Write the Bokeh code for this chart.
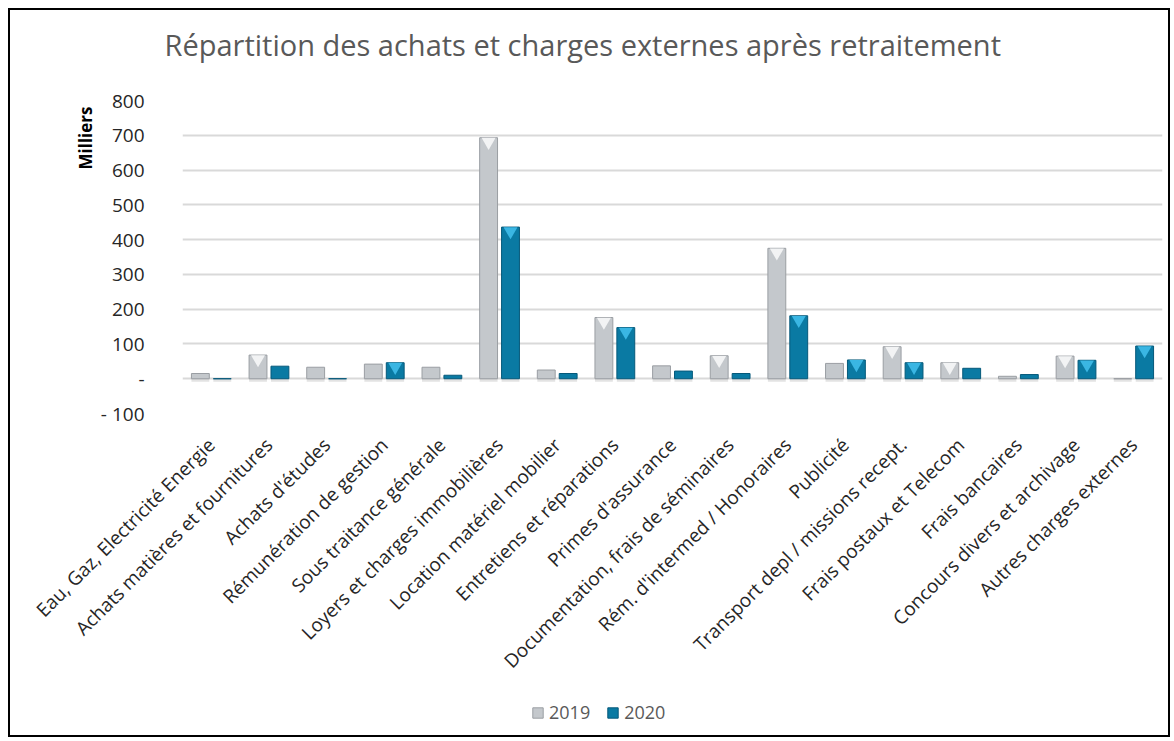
import math
from bokeh.plotting import figure
from bokeh.layouts import column
from bokeh.models import (FactorRange, Range1d, FixedTicker, CustomJSTickFormatter,
                          ColumnDataSource, Legend, LegendItem, Title, CDSView,
                          BooleanFilter)
from bokeh.transform import dodge
from bokeh.embed import file_html
from bokeh.resources import INLINE

categories = [
    "Eau, Gaz, Electricité Energie",
    "Achats matières et fournitures",
    "Achats d'études",
    "Rémunération de gestion",
    "Sous traitance générale",
    "Loyers et charges immobilières",
    "Location matériel mobilier",
    "Entretiens et réparations",
    "Primes d'assurance",
    "Documentation, frais de séminaires",
    "Rém. d'intermed / Honoraires",
    "Publicité",
    "Transport depl / missions recept.",
    "Frais postaux et Telecom",
    "Frais bancaires",
    "Concours divers et archivage",
    "Autres charges externes",
]
values_2019 = [15, 68, 33, 42, 33, 693, 25, 176, 37, 66, 375, 44, 92, 46, 7, 65, 0]
values_2020 = [0, 36, 0, 46, 10, 436, 15, 147, 22, 15, 181, 54, 46, 30, 12, 53, 94]
series_names = ["2019", "2020"]
y_ticks = [-100, 0, 100, 200, 300, 400, 500, 600, 700, 800]
chart_title = "Répartition des achats et charges externes après retraitement"

FONT = "Open Sans"
COL_19, EDGE_19 = "#c4c8cc", "#9a9ea3"
COL_20, EDGE_20 = "#0a7aa3", "#06597a"
W = 0.31

src = ColumnDataSource(dict(cat=categories, y2019=values_2019, y2020=values_2020,
                            shadow=[-9] * len(categories)))

# ---- title strip ----
tf = figure(x_range=Range1d(0, 1), y_range=Range1d(0, 1), width=1158, height=76,
            output_backend="svg", toolbar_location=None, min_border=0,
            min_border_left=172, min_border_right=6, outline_line_color=None)
tf.axis.visible = False
tf.grid.visible = False
tf.add_layout(Title(text=chart_title, align="left", offset=-18, standoff=24,
                    vertical_align="bottom", text_font=FONT, text_font_size="29px",
                    text_font_style="normal", text_color="#595959"), "above")

# ---- main chart ----
p = figure(x_range=FactorRange(*categories), y_range=Range1d(-100, 800),
           width=1158, height=609, output_backend="svg", toolbar_location=None,
           min_border_left=172, min_border_right=6, min_border_top=14,
           min_border_bottom=282)
p.outline_line_color = None
p.background_fill_color = "white"
p.border_fill_color = "white"

p.xgrid.grid_line_color = None
p.ygrid.grid_line_color = "#d9d9d9"
p.ygrid.grid_line_width = 2
p.yaxis.ticker = FixedTicker(ticks=y_ticks)
p.yaxis.formatter = CustomJSTickFormatter(
    code="return tick == 0 ? '-' : (tick < 0 ? '- ' + Math.abs(tick) : String(tick));")
for ax in (p.xaxis[0], p.yaxis[0]):
    ax.axis_line_color = None
    ax.major_tick_line_color = None
    ax.minor_tick_line_color = None
    ax.major_label_text_font = FONT
    ax.major_label_text_font_size = "19px"
    ax.major_label_text_color = "#262626"
p.yaxis.major_label_standoff = 32
p.xaxis.major_label_standoff = 22
p.xaxis.major_label_orientation = math.pi / 4

p.add_layout(Title(text="Milliers", align="right", offset=6, text_font=FONT,
                   text_font_size="17px", text_font_style="bold", text_color="black",
                   standoff=2), "left")

x19 = dodge("cat", -0.19, range=p.x_range)
x20 = dodge("cat", 0.19, range=p.x_range)

# shadows under bars
p.vbar(x=x19, top=0, bottom="shadow", width=W, source=src, fill_color="#b0b0b0",
       fill_alpha=0.35, line_color=None)
p.vbar(x=x20, top=0, bottom="shadow", width=W, source=src, fill_color="#b0b0b0",
       fill_alpha=0.35, line_color=None)

p.vbar(x=x19, top="y2019", bottom=0, width=W, source=src,
       fill_color=COL_19, line_color=EDGE_19, line_width=1)
p.vbar(x=x20, top="y2020", bottom=0, width=W, source=src,
       fill_color=COL_20, line_color=EDGE_20, line_width=1)

# bevel highlights on taller bars
v19 = CDSView(filter=BooleanFilter([v >= 45 for v in values_2019]))
v20 = CDSView(filter=BooleanFilter([v >= 45 for v in values_2020]))
p.scatter(x=x19, y=dodge("y2019", -12), marker="inverted_triangle", size=14,
          source=src, view=v19, fill_color="#f2f3f4", line_color=None)
p.scatter(x=x20, y=dodge("y2020", -12), marker="inverted_triangle", size=14,
          source=src, view=v20, fill_color="#3ab6e3", line_color=None)

# ---- legend strip ----
lf = figure(x_range=FactorRange(*categories), y_range=Range1d(1000, 1001),
            width=1158, height=40, output_backend="svg", toolbar_location=None,
            min_border=0, min_border_left=172, min_border_right=6,
            outline_line_color=None)
lf.axis.visible = False
lf.grid.visible = False
lr19 = lf.vbar(x="cat", top="y2019", width=W, source=src, fill_color=COL_19, line_color=EDGE_19)
lr20 = lf.vbar(x="cat", top="y2020", width=W, source=src, fill_color=COL_20, line_color=EDGE_20)
legend = Legend(items=[LegendItem(label=series_names[0], renderers=[lr19]),
                       LegendItem(label=series_names[1], renderers=[lr20])],
                location=(349, 11), orientation="horizontal",
                label_text_font=FONT, label_text_font_size="18px",
                label_text_color="#595959", glyph_width=13, glyph_height=13,
                spacing=16, padding=2, margin=0, border_line_color=None,
                background_fill_alpha=0)
lf.add_layout(legend, "center")

layout = column(tf, p, lf, spacing=0)
layout.styles = {"border": "2px solid black", "margin-left": "8px", "margin-top": "8px"}

open("out.html", "w").write(file_html(layout, INLINE))
